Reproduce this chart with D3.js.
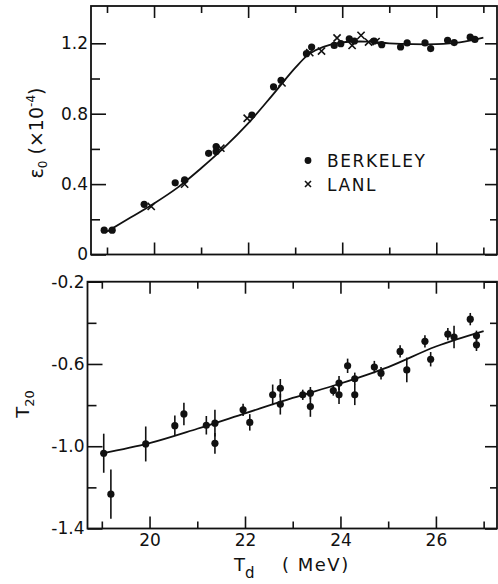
<!DOCTYPE html>
<html>
<head>
<meta charset="utf-8">
<script src="https://cdn.jsdelivr.net/npm/d3@7"></script>
<style>
body { margin: 0; background: #fff; }
text { font-family: "DejaVu Sans", sans-serif; fill: #111; }
</style>
</head>
<body>
<svg id="chart" width="498" height="584"></svg>
<script>
// top panel: eps0 (x 1e-4) vs Td
var berkeleyT = [18.94, 19.11, 19.79, 20.45, 20.65, 21.16, 21.32, 21.32, 22.08, 22.54, 22.70, 23.24, 23.35, 23.83, 23.97, 24.15, 24.26, 24.68, 24.84, 25.24, 25.38, 25.76, 25.88, 26.24, 26.38, 26.72, 26.82];
var berkeleyE = [0.138, 0.138, 0.285, 0.407, 0.424, 0.575, 0.613, 0.585, 0.792, 0.953, 0.99, 1.141, 1.179, 1.188, 1.198, 1.226, 1.213, 1.213, 1.192, 1.179, 1.202, 1.202, 1.17, 1.217, 1.204, 1.235, 1.222];
var lanlT = [19.94, 20.65, 21.42, 21.98, 22.72, 23.31, 23.56, 23.89, 24.21, 24.40, 24.56, 24.72];
var lanlE = [0.273, 0.40, 0.604, 0.774, 0.975, 1.147, 1.156, 1.23, 1.188, 1.245, 1.207, 1.21];
var epsFitT = [19.0, 19.5, 20.0, 20.5, 21.0, 21.5, 22.0, 22.5, 23.0, 23.3, 23.6, 24.0, 24.5, 25.0, 25.5, 26.0, 26.5, 27.0];
var epsFitV = [0.13, 0.21, 0.29, 0.38, 0.49, 0.61, 0.745, 0.90, 1.06, 1.14, 1.18, 1.205, 1.21, 1.20, 1.195, 1.195, 1.205, 1.232];

// bottom panel: T20 vs Td
var t20T = [19.04, 19.19, 19.92, 20.53, 20.72, 21.19, 21.37, 21.37, 21.96, 22.10, 22.58, 22.74, 22.74, 23.21, 23.37, 23.37, 23.85, 23.97, 23.97, 24.15, 24.30, 24.30, 24.71, 24.85, 25.25, 25.39, 25.77, 25.89, 26.25, 26.38, 26.72, 26.85, 26.85];
var t20V = [-1.034, -1.233, -0.989, -0.90, -0.843, -0.898, -0.888, -0.986, -0.823, -0.884, -0.75, -0.718, -0.796, -0.75, -0.742, -0.807, -0.729, -0.693, -0.75, -0.609, -0.672, -0.75, -0.615, -0.645, -0.539, -0.629, -0.49, -0.577, -0.455, -0.469, -0.382, -0.463, -0.507];
var t20Err = [0.095, 0.12, 0.085, 0.05, 0.055, 0.045, 0.065, 0.05, 0.03, 0.04, 0.05, 0.045, 0.05, 0.025, 0.03, 0.05, 0.025, 0.035, 0.045, 0.035, 0.03, 0.05, 0.03, 0.03, 0.03, 0.06, 0.03, 0.035, 0.03, 0.055, 0.03, 0.025, 0.03];
var t20FitT = [19.0, 20.0, 21.0, 22.0, 23.0, 24.0, 25.0, 26.0, 27.0];
var t20FitV = [-1.035, -0.985, -0.915, -0.84, -0.765, -0.695, -0.615, -0.515, -0.44];

var xMajor = [20, 22, 24, 26], xMinor = [19, 21, 23, 25, 27];
var epsMajor = [0, 0.4, 0.8, 1.2], epsMinor = [0.2, 0.6, 1.0];
var t20Major = [-0.2, -0.6, -1.0, -1.4], t20Minor = [-0.4, -0.8, -1.2];

var svg = d3.select("#chart");

var x1 = d3.scaleLinear().domain([18.66, 27.29]).range([91, 497]);
var y1 = d3.scaleLinear().domain([0, 1.412]).range([254.5, 6]);
var x2 = d3.scaleLinear().domain([18.70, 27.28]).range([87.5, 497]);
var y2 = d3.scaleLinear().domain([-1.4, -0.2]).range([528.5, 281.7]);

// plain hyphen instead of unicode minus, like the original lettering
var fmt1 = d => d3.format(".1f")(d).replace("\u2212", "-");

function frame(x, y, yMajor, yMinor, yFmt, xLabels) {
  var g = svg.append("g");
  var x0 = x.range()[0], xr = x.range()[1], yb = y.range()[0], yt = y.range()[1];
  // ticks, all pointing inward
  g.append("g").attr("transform", `translate(0,${yb})`)
    .call(d3.axisBottom(x).tickValues(xMajor).tickSize(-12).tickSizeOuter(0).tickPadding(5).tickFormat(xLabels ? d3.format("d") : ""));
  g.append("g").attr("transform", `translate(0,${yb})`)
    .call(d3.axisBottom(x).tickValues(xMinor).tickSize(-7).tickSizeOuter(0).tickFormat(""));
  g.append("g").attr("transform", `translate(0,${yt})`)
    .call(d3.axisTop(x).tickValues(xMajor).tickSize(-12).tickSizeOuter(0).tickFormat(""));
  g.append("g").attr("transform", `translate(0,${yt})`)
    .call(d3.axisTop(x).tickValues(xMinor).tickSize(-7).tickSizeOuter(0).tickFormat(""));
  g.append("g").attr("transform", `translate(${x0},0)`)
    .call(d3.axisLeft(y).tickValues(yMajor).tickSize(-15).tickSizeOuter(0).tickPadding(3).tickFormat(yFmt));
  g.append("g").attr("transform", `translate(${x0},0)`)
    .call(d3.axisLeft(y).tickValues(yMinor).tickSize(-9).tickSizeOuter(0).tickFormat(""));
  g.append("g").attr("transform", `translate(${xr},0)`)
    .call(d3.axisRight(y).tickValues(yMajor).tickSize(-12).tickSizeOuter(0).tickFormat(""));
  g.append("g").attr("transform", `translate(${xr},0)`)
    .call(d3.axisRight(y).tickValues(yMinor).tickSize(-7).tickSizeOuter(0).tickFormat(""));
  g.selectAll(".domain").remove();
  g.selectAll(".tick line").attr("stroke", "#111").attr("stroke-width", 1.6);
  g.selectAll(".tick text").attr("font-size", 17).attr("fill", "#111");
  g.append("rect").attr("x", x0).attr("y", yt).attr("width", xr - x0).attr("height", yb - yt)
    .attr("fill", "none").attr("stroke", "#111").attr("stroke-width", 1.8);
}

frame(x1, y1, epsMajor, epsMinor, d => d === 0 ? "0" : fmt1(d), false);
frame(x2, y2, t20Major, t20Minor, fmt1, true);

// top panel marks
var line1 = d3.line().x(d => x1(d[0])).y(d => y1(d[1])).curve(d3.curveCatmullRom);
svg.append("path").datum(epsFitT.map((t, i) => [t, epsFitV[i]]))
  .attr("d", line1).attr("fill", "none").attr("stroke", "#111").attr("stroke-width", 1.8);

svg.append("g").selectAll("circle").data(berkeleyT).join("circle")
  .attr("cx", d => x1(d)).attr("cy", (d, i) => y1(berkeleyE[i])).attr("r", 3.6).attr("fill", "#111");

var xs = 3.6;
svg.append("g").selectAll("path").data(lanlT).join("path")
  .attr("d", (d, i) => {
    var cx = x1(d), cy = y1(lanlE[i]);
    return `M${cx - xs},${cy - xs}L${cx + xs},${cy + xs}M${cx - xs},${cy + xs}L${cx + xs},${cy - xs}`;
  })
  .attr("stroke", "#111").attr("stroke-width", 1.6);

// legend
var leg = svg.append("g");
leg.append("circle").attr("cx", 308).attr("cy", 160.5).attr("r", 3.4).attr("fill", "#111");
leg.append("path").attr("d", "M305,181L311,187M305,187L311,181").attr("stroke", "#111").attr("stroke-width", 1.6);
leg.append("text").attr("x", 327).attr("y", 167).attr("font-size", 17).attr("letter-spacing", 1.6).text("BERKELEY");
leg.append("text").attr("x", 327).attr("y", 191).attr("font-size", 17).attr("letter-spacing", 1.6).text("LANL");

// bottom panel marks
var line2 = d3.line().x(d => x2(d[0])).y(d => y2(d[1])).curve(d3.curveCatmullRom);
svg.append("path").datum(t20FitT.map((t, i) => [t, t20FitV[i]]))
  .attr("d", line2).attr("fill", "none").attr("stroke", "#111").attr("stroke-width", 1.8);

var pts = svg.append("g");
pts.selectAll("line").data(t20T).join("line")
  .attr("x1", d => x2(d)).attr("x2", d => x2(d))
  .attr("y1", (d, i) => y2(t20V[i] - t20Err[i])).attr("y2", (d, i) => y2(t20V[i] + t20Err[i]))
  .attr("stroke", "#111").attr("stroke-width", 1.6);
pts.selectAll("circle").data(t20T).join("circle")
  .attr("cx", d => x2(d)).attr("cy", (d, i) => y2(t20V[i])).attr("r", 3.6).attr("fill", "#111");

// axis titles
var yt1 = svg.append("text").attr("transform", "translate(43,133) rotate(-90)")
  .attr("text-anchor", "middle").attr("font-size", 19);
yt1.append("tspan").text("\u03b5");
yt1.append("tspan").attr("font-size", 12).attr("dy", 4).text("0");
yt1.append("tspan").attr("dy", -4).text(" (\u00d710");
yt1.append("tspan").attr("font-size", 12).attr("dy", -8).text("-4");
yt1.append("tspan").attr("dy", 8).text(")");

var yt2 = svg.append("text").attr("transform", "translate(29,404) rotate(-90)")
  .attr("text-anchor", "middle").attr("font-size", 18);
yt2.append("tspan").text("T");
yt2.append("tspan").attr("font-size", 13).attr("dy", 5).text("20");

var xt = svg.append("text").attr("x", 234).attr("y", 571).attr("font-size", 18);
xt.append("tspan").text("T");
xt.append("tspan").attr("font-size", 15).attr("dy", 7).text("d");
xt.append("tspan").attr("dy", -7).attr("x", 282).attr("letter-spacing", 1.5).text("( MeV)");
</script>
</body>
</html>
